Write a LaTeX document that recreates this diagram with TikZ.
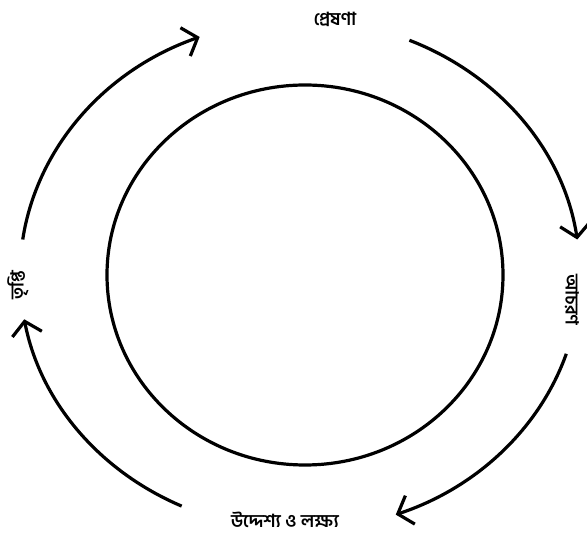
\documentclass[tikz,border=0pt]{standalone}
\usepackage{fontspec}
\newfontfamily\bnfont[Script=Bengali]{Hind Siliguri}
\usetikzlibrary{arrows.meta}
\begin{document}
\begin{tikzpicture}[x=1pt,y=1pt,
  lbl/.style={font=\bnfont\bfseries\fontsize{18}{21}\selectfont, inner sep=0pt},
  cyc/.style={line width=3.2pt, -{Straight Barb[length=13pt,width=30pt,line width=3.2pt]}},
  ring/.style={line width=3.2pt}]
\useasboundingbox (0,0) rectangle (587,541);
\coordinate (c) at (300,266);
\coordinate (ic) at (305,266);
\draw[ring] (ic) ellipse [x radius=198, y radius=190];
\node[lbl] (t) at (335,522) {প্রেষণা};
\node[lbl, rotate=-90] (r) at (572,241) {আচরণ};
\node[lbl] (b) at (285,21) {উদ্দেশ্য ও লক্ষ্য};
\node[lbl, rotate=90] (l) at (18,256) {তৃপ্তি};
\draw[cyc] (c) ++(172:280 and 255) arc[start angle=172, end angle=111, x radius=280, y radius=255];
\draw[cyc] (c) ++(67:280 and 255) arc[start angle=67, end angle=8, x radius=280, y radius=255];
\draw[cyc] (c) ++(-18:280 and 255) arc[start angle=-18, end angle=-70, x radius=280, y radius=255];
\draw[cyc] (c) ++(245:280 and 255) arc[start angle=245, end angle=190, x radius=280, y radius=255];
\end{tikzpicture}
\end{document}
